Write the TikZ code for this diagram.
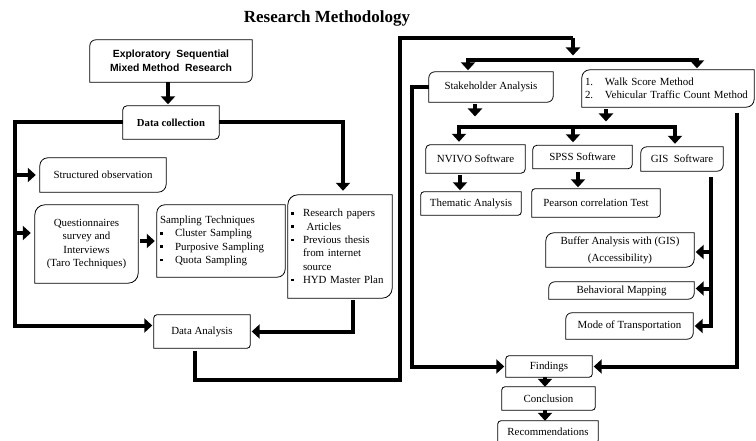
\documentclass[tikz,border=0pt]{standalone}
\usepackage{fontspec}
\setmainfont{Liberation Serif}
\setsansfont{Liberation Sans}
\usetikzlibrary{arrows.meta}
\newcommand\rbox[2]{\draw[line width=0.8pt] ([yshift=-#2]#1.north west) arc[start angle=180,end angle=90,radius=#2] -- (#1.north east) -- ([yshift=#2]#1.south east) arc[start angle=0,end angle=-90,radius=#2] -- (#1.south west) -- cycle;}
\newcommand\sqb{\makebox[12pt][l]{\rule[2.2pt]{2.6pt}{2.6pt}}}
\newcommand\sqbw{\makebox[15pt][l]{\rule[2.2pt]{2.6pt}{2.6pt}}}
\newcommand\nob{\makebox[12pt][l]{}}
\begin{document}
\begin{tikzpicture}[x=1pt,y=-1pt,
  line/.style={line width=4pt},
  arr/.style={line width=4pt,-{Triangle[width=14pt,length=8pt]},shorten >=1.5pt},
  arrtwo/.style={line width=4pt,{Triangle[width=14pt,length=8pt]}-{Triangle[width=14pt,length=8pt]},shorten >=1.5pt,shorten <=1.5pt},
  bx/.style={inner sep=0pt, align=center, font=\fontsize{10.9}{13.3}\selectfont},
]
\useasboundingbox (0,0) rectangle (756,441);
\node[font=\bfseries\fontsize{17}{20}\selectfont] (title) at (327,18) {Research Methodology};

% left part
\node[bx,minimum width=162pt,minimum height=42pt,font=\sffamily\bfseries\fontsize{10.4}{13.5}\selectfont] (expl) at (171,61) {Exploratory\ \ Sequential\\Mixed Method\ \ Research};
\rbox{expl}{6pt}
\node[bx,minimum width=96pt,minimum height=33pt,font=\bfseries\fontsize{10.7}{13}\selectfont] (dcoll) at (171,122.5) {Data collection};
\rbox{dcoll}{4pt}
\node[bx,minimum width=126pt,minimum height=34pt] (sobs) at (103,175) {Structured observation};
\rbox{sobs}{8pt}
\node[bx,minimum width=103pt,minimum height=78pt] (quest) at (86.5,244) {Questionnaires\\survey and\\Interviews\\(Taro Techniques)};
\rbox{quest}{10pt}
\node[bx,minimum width=128pt,minimum height=72pt,text width=122pt,align=left] (samp) at (221,241) {Sampling Techniques\\\sqbw Cluster Sampling\\\sqbw Purposive Sampling\\\sqbw Quota Sampling};
\rbox{samp}{8pt}
\node[bx,minimum width=104pt,minimum height=103pt,text width=98pt,align=left] (research) at (340,246.5) {\sqb Research papers\\\sqb\ Articles\\\sqb Previous thesis\\\nob from internet\\\nob source\\\sqb HYD Master Plan};
\rbox{research}{10pt}
\node[bx,minimum width=96pt,minimum height=33pt] (danal) at (202,331.5) {Data Analysis};
\rbox{danal}{3pt}

% right part
\node[bx,minimum width=124pt,minimum height=30pt] (stake) at (491,87) {Stakeholder Analysis};
\rbox{stake}{6pt}
\node[bx,minimum width=172pt,minimum height=37pt,text width=166pt,align=left] (walk) at (668,88.5) {\makebox[20pt][l]{1.}Walk Score Method\\\makebox[20pt][l]{2.}Vehicular Traffic Count Method};
\rbox{walk}{8pt}
\node[bx,minimum width=99pt,minimum height=28pt] (nvivo) at (475.5,159) {NVIVO Software};
\rbox{nvivo}{4pt}
\node[bx,minimum width=99pt,minimum height=23pt] (spss) at (582.5,157) {SPSS Software};
\rbox{spss}{4pt}
\node[bx,minimum width=82pt,minimum height=24pt] (gis) at (682,159) {GIS\ \ Software};
\rbox{gis}{6pt}
\node[bx,minimum width=100pt,minimum height=23pt] (them) at (471,203.5) {Thematic Analysis};
\rbox{them}{3pt}
\node[bx,minimum width=128pt,minimum height=28pt] (pear) at (596,203) {Pearson correlation Test};
\rbox{pear}{3pt}
\node[bx,minimum width=148pt,minimum height=34pt] (buf) at (620,250) {Buffer Analysis with (GIS)\\[4pt](Accessibility)};
\rbox{buf}{8pt}
\node[bx,minimum width=145pt,minimum height=17pt] (beh) at (621.5,290.5) {Behavioral Mapping};
\rbox{beh}{6pt}
\node[bx,minimum width=127pt,minimum height=26pt] (mode) at (629.5,326) {Mode of Transportation};
\rbox{mode}{6pt}
\node[bx,minimum width=86pt,minimum height=21pt] (find) at (549,366.5) {Findings};
\rbox{find}{3pt}
\node[bx,minimum width=93pt,minimum height=23pt] (conc) at (548.5,398.5) {Conclusion};
\rbox{conc}{3pt}
\node[bx,minimum width=100pt,minimum height=22pt] (rec) at (548,432) {Recommendations};
\rbox{rec}{3pt}

% coordinates
\coordinate (lft) at (15,200);
\coordinate (b1) at (400,380);
\coordinate (b2) at (573,38);
\coordinate (tip0) at (573,57);
\coordinate (sL) at (468,60);
\coordinate (sR) at (697,60);
\coordinate (lft2) at (412,200);
\coordinate (stTip) at (475,118);
\coordinate (wkTip) at (606,123);
\coordinate (tL) at (459,127);
\coordinate (tM) at (573,127);
\coordinate (tR) at (675,127);
\coordinate (g1) at (711,177);
\coordinate (w1) at (737,113);

% connectors left
\draw[arr] ([xshift=-3pt]expl.south) -- ([xshift=-3pt]dcoll.north);
\draw[arr] (dcoll.west) -| (lft) |- ([yshift=6pt]danal.west);
\draw[arr,shorten >=4pt] (sobs.west -| lft) -- (sobs.west);
\draw[arr,shorten >=4pt] ([yshift=11pt]quest.west -| lft) -- ([yshift=11pt]quest.west);
\draw[arr,shorten >=2pt,shorten <=2pt] (quest.east |- samp.west) -- (samp.west);
\draw[arr,shorten >=4pt] (dcoll.east) -| ([xshift=3pt]research.north);
\draw[arr,shorten <=2pt] ([xshift=13pt]research.south) |- (danal.east);
\draw[line] ([xshift=-7pt,yshift=-3pt]danal.south) |- (b1) |- (b2);
\draw[arr] (b2) -- (tip0);

% connectors right
\draw[arrtwo] (stake.north -| sL) |- (sR) -- (sR |- walk.north);
\draw[arr] ([xshift=-16pt,yshift=-2pt]stake.south) -- (stTip);
\draw[arr] ([xshift=-62pt,yshift=-2pt]walk.south) -- (wkTip);
\draw[arrtwo,shorten >=3pt,shorten <=3pt] (nvivo.north -| tL) |- (tR) -- (tR |- gis.north);
\draw[arr,shorten >=3pt] (tM) -- (tM |- spss.north);
\draw[arr] ([xshift=-15.5pt,yshift=-2pt]nvivo.south) -- ([xshift=-15.5pt]nvivo.south |- them.north);
\draw[arr] ([xshift=-4.5pt,yshift=-3pt]spss.south) -- ([xshift=-4.5pt]spss.south |- pear.north);
\draw[arr] (g1) |- (mode.east);
\draw[arr] ([yshift=-2pt]buf.east -| g1) -- ([yshift=-2pt]buf.east);
\draw[arr] ([yshift=2pt]beh.east -| g1) -- ([yshift=2pt]beh.east);
\draw[arr] (stake.west) -| (lft2) |- (find.west);
\draw[arr] (w1) |- (find.east);
\draw[arr,shorten >=0pt] ([xshift=-4pt]find.south) -- ([xshift=-4pt]find.south |- conc.north);
\draw[arr,shorten >=0pt] ([xshift=-3.5pt]conc.south) -- ([xshift=-3.5pt]conc.south |- rec.north);
\end{tikzpicture}
\end{document}
